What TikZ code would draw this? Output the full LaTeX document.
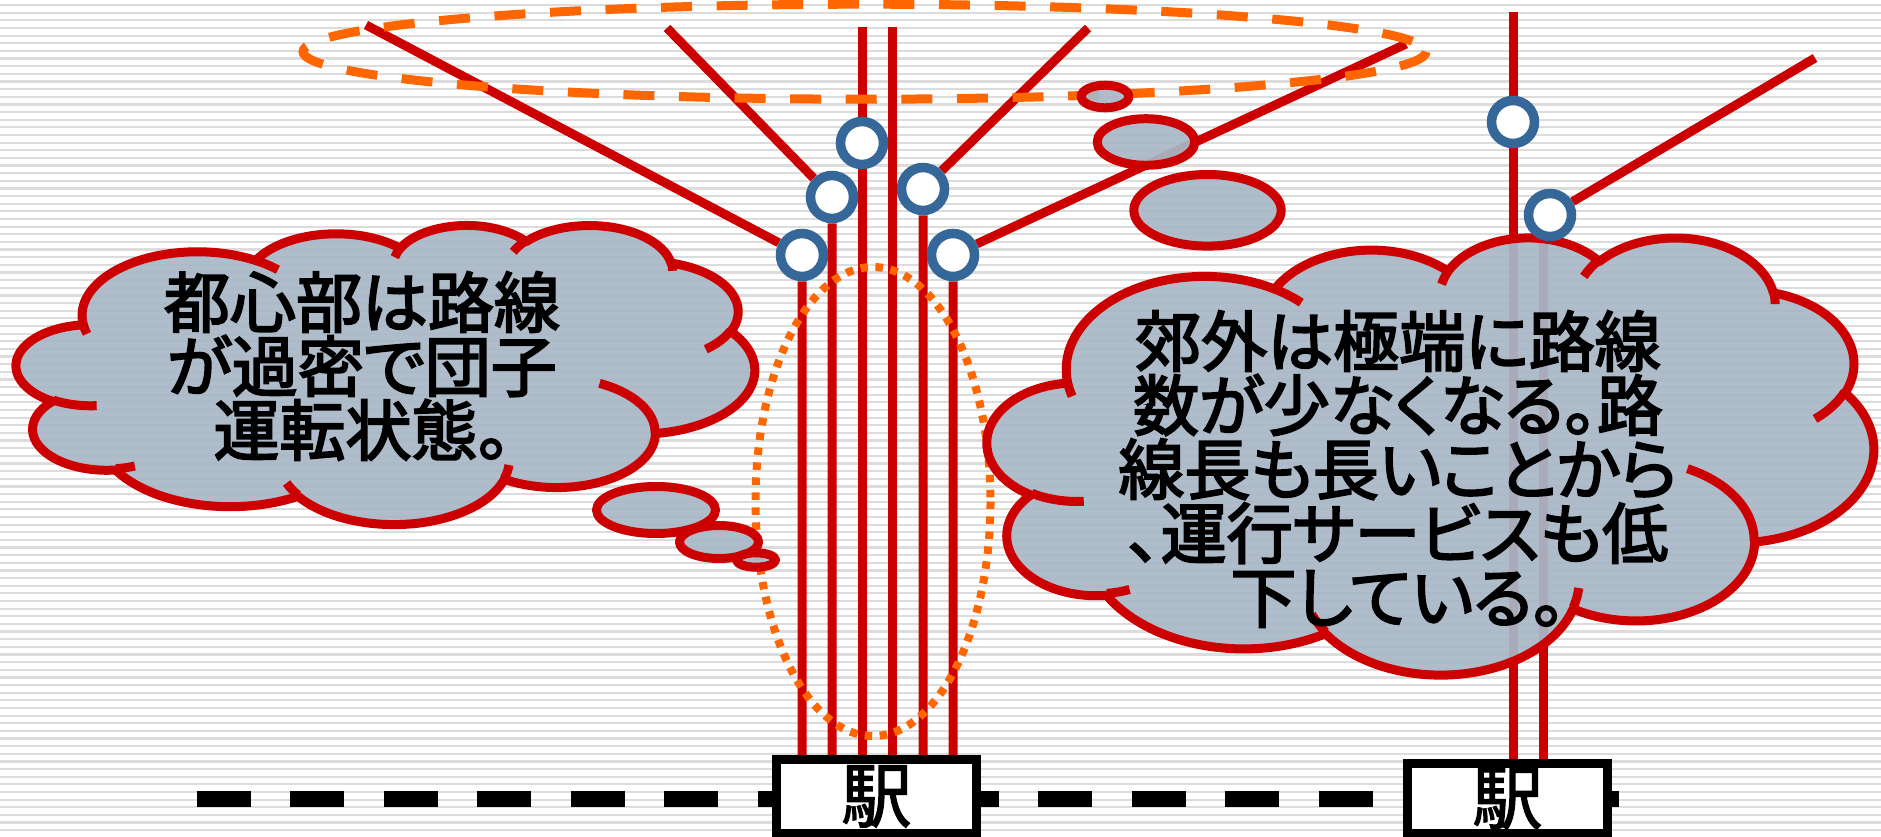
\documentclass[tikz,border=0pt]{standalone}
\usepackage{fontspec}
\newfontfamily\jpfont[RawFeature=+palt, FakeBold=3]{Noto Sans CJK JP}
\newfontfamily\jpplain[FakeBold=2]{Noto Sans CJK JP}
\usetikzlibrary{calc}
\pgfdeclarelayer{stripes}
\pgfdeclarelayer{lower}
\pgfdeclarelayer{mid}
\pgfsetlayers{stripes,lower,mid,main}

\definecolor{linered}{HTML}{CC0000}
\definecolor{ringblue}{HTML}{356898}
\definecolor{hazeorange}{HTML}{FF6600}
\definecolor{cloudfill}{HTML}{A9B7C7}
\definecolor{stripegray}{HTML}{DCDCDC}

% one bump of a cloud outline: radii a, b, visual start angle and sweep (degrees)
\newcommand\cloudarc[4]{arc[x radius=#1, y radius=#2,
  start angle={atan2(#1*sin(#3),#2*cos(#3))},
  delta angle={mod(atan2(#1*sin(#3+#4),#2*cos(#3+#4))-atan2(#1*sin(#3),#2*cos(#3))+720,360)}]}

% cloud in the frame with top-left corner (#1,#2), width #3, height #4
\newcommand\drawcloud[4]{%
  \begin{scope}[shift={(#1,#2)}, x={(#3pt/432,0pt)}, y={(0pt,-#4pt/432)}]
    \draw[cloudbody] (39.00,143.70)
      \cloudarc{67.53}{91.90}{-190.4875}{123.7805}
      \cloudarc{53.33}{72.67}{-144.1024}{89.9452}
      \cloudarc{43.65}{59.45}{-145.8079}{99.7230}
      \cloudarc{48.57}{65.95}{-130.9861}{117.2417}
      \cloudarc{53.33}{72.73}{-78.7089}{109.0269}
      \cloudarc{67.75}{92.20}{-46.2673}{130.2690}
      \cloudarc{57.85}{78.67}{0.6250}{114.0333}
      \cloudarc{67.52}{92.15}{22.4516}{115.1726}
      \cloudarc{77.20}{105.43}{66.2426}{75.7110}
      \cloudarc{43.60}{59.18}{-274.9421}{146.7356}
      \cloudarc{43.45}{59.45}{-246.8285}{152.5189}
      -- cycle;
    \draw[cloudedge]
      (46.93,261.77) \cloudarc{43.45}{59.45}{86.7420}{26.4295}
      (69.28,348.99) \cloudarc{43.60}{59.18}{73.6105}{11.4475}
      (164.78,390.90) \cloudarc{67.52}{92.15}{137.6242}{14.0811}
      (288.27,347.51) \cloudarc{67.52}{92.15}{6.4533}{15.9984}
      (341.29,229.54) \cloudarc{57.85}{78.67}{-70.2924}{70.9174}
      (417.98,153.54) \cloudarc{53.33}{72.73}{30.3180}{27.7515}
      (383.24,54.26) \cloudarc{48.57}{65.95}{-13.7443}{14.8589}
      (290.78,39.52) \cloudarc{48.57}{65.95}{-149.1815}{18.1954}
      (221.41,47.20) \cloudarc{43.65}{59.45}{-163.4943}{17.6864}
      (140.00,51.92) \cloudarc{67.53}{91.90}{-66.7070}{12.3194}
      (41.27,157.89) \cloudarc{67.53}{91.90}{157.6544}{11.8582};
  \end{scope}}

\tikzset{
  cloudbody/.style={draw=linered, line width=9pt, fill=cloudfill, fill opacity=0.93, line join=round},
  cloudedge/.style={draw=linered, line width=9pt},
  railline/.style={draw=linered, line width=9pt},
  ring/.style={circle, draw=ringblue, line width=9.5pt, fill=white, minimum size=43pt, inner sep=0pt},
  stationbox/.style={draw=black, line width=9pt, fill=white, minimum width=200pt, inner sep=0pt,
    font=\jpplain\fontsize{70}{70}\selectfont},
  basetrack/.style={draw=black, line width=16pt, dash pattern=on 54pt off 39.5pt},
  centrering/.style={draw=hazeorange, line width=9pt, dash pattern=on 31pt off 24.6pt},
  coreoval/.style={draw=hazeorange, line width=8pt, dash pattern=on 7.5pt off 7.5pt},
  cloudtext/.style={font=\jpfont\fontsize{66}{64}\selectfont, align=center, inner sep=0pt}
}

\begin{document}
\begin{tikzpicture}[x=1pt, y=-1pt]
\useasboundingbox (0,0) rectangle (1881,837);

% ruled paper background
\begin{pgfonlayer}{stripes}
  \fill[white] (0,0) rectangle (1881,837);
  \foreach \i in {0,...,109}
    \fill[stripegray] (0,{4+\i*7.64}) rectangle (1881,{6.2+\i*7.64});
\end{pgfonlayer}

% stations
\node[stationbox, minimum height=73.5pt] (s1) at (876.5,796.5) {駅};
\node[stationbox, minimum height=69.5pt] (s2) at (1507.5,798.5) {駅};

% stops
\node[ring] (c1) at (802,255) {};
\node[ring] (c2) at (832,197) {};
\node[ring] (c3) at (862,143) {};
\node[ring] (c4) at (923,189) {};
\node[ring] (c5) at (953,255) {};
\node[ring] (r1) at (1513,122) {};
\node[ring] (r2) at (1550,215) {};

% free ends of the lines
\coordinate (t1) at (366,25);
\coordinate (t2) at (667,28);
\coordinate (t3) at (862,27);
\coordinate (t4) at (892,27);
\coordinate (t5) at (1088,28);
\coordinate (t6) at (1406,44);
\coordinate (u1) at (1513,12.5);
\coordinate (u2) at (1815,58);
\coordinate (v2) at (1543,215);
\coordinate (dl) at (196.5,799);
\coordinate (dr) at (1619,799);

\begin{pgfonlayer}{lower}
  \draw[basetrack] (dl) -- (dr);
  % city centre: many lines converging
  \draw[railline] (t1) -- (c1) -- (c1 |- s1.north);
  \draw[railline] (t2) -- (c2) -- (c2 |- s1.north);
  \draw[railline] (t3) -- (t3 |- s1.north);
  \draw[railline] (t4) -- (t4 |- s1.north);
  \draw[railline] (t5) -- (c4) -- (c4 |- s1.north);
  \draw[railline] (t6) -- (c5) -- (c5 |- s1.north);
  % suburbs: two lines only
  \draw[railline] (u1) -- (u1 |- s2.north);
  \draw[railline] (u2) -- (r2);
  \draw[railline] (v2) -- (v2 |- s2.north);
  % highlighted areas
  \draw[centrering] (864.5,51.7) ellipse[x radius=561.5, y radius=47.5];
  \draw[coreoval] (873,501.5) ellipse[x radius=117.5, y radius=234.5];
\end{pgfonlayer}

\begin{pgfonlayer}{mid}
  % thought bubble over the centre
  \drawcloud{16.5}{224.5}{738}{299}
  \draw[cloudbody] (656,510) ellipse[x radius=59.5, y radius=23.5];
  \draw[cloudbody] (719,542) ellipse[x radius=39.5, y radius=16.5];
  \draw[cloudbody] (756,560) ellipse[x radius=19.5, y radius=7.2];
  % thought bubble over the suburbs
  \drawcloud{987.5}{236.5}{886}{437}
  \draw[cloudbody] (1207.5,210.3) ellipse[x radius=73.7, y radius=35.8];
  \draw[cloudbody] (1146,142) ellipse[x radius=48.8, y radius=23.3];
  \draw[cloudbody] (1105,96.5) ellipse[x radius=23.8, y radius=11.3];
\end{pgfonlayer}

\node[cloudtext] (tl) at (362,366) {都心部は路線\\が過密で団子\\運転状態。};
\node[cloudtext] (tr) at (1398,469) {郊外は極端に路線\\数が少なくなる。路\\線長も長いことから\\、運行サービスも低\\下している。};

\end{tikzpicture}
\end{document}
